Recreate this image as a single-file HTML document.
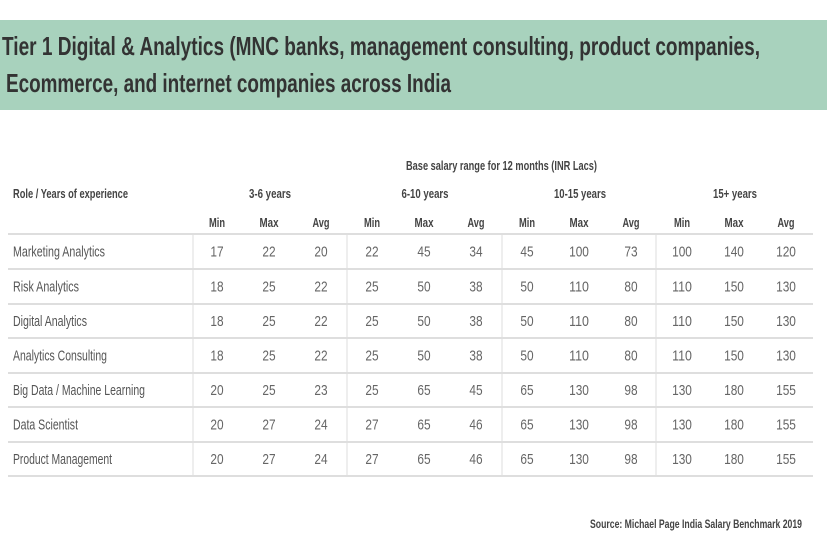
<!DOCTYPE html>
<html><head><meta charset="utf-8"><style>
html,body{margin:0;padding:0;background:#fff;width:827px;height:551px;overflow:hidden}
svg{display:block}
text{font-family:"Liberation Sans",sans-serif}
.t{font-weight:bold;fill:#333;font-size:26px}
.h{font-weight:bold;fill:#444;font-size:13px}
.d{fill:#666;font-size:15px}
.r{fill:#555;font-size:15px}
</style></head><body>
<svg width="827" height="551" viewBox="0 0 827 551" xmlns="http://www.w3.org/2000/svg">
<rect x="0" y="20" width="827" height="90" fill="#a8d2bd"/>
<text class="t" x="2" y="55" textLength="758" lengthAdjust="spacingAndGlyphs">Tier 1 Digital &amp; Analytics (MNC banks, management consulting, product companies,</text>
<text class="t" x="6" y="92" textLength="445" lengthAdjust="spacingAndGlyphs">Ecommerce, and internet companies across India</text>

<text class="h" x="406" y="170" textLength="191" lengthAdjust="spacingAndGlyphs">Base salary range for 12 months (INR Lacs)</text>
<text class="h" x="13" y="198" textLength="115" lengthAdjust="spacingAndGlyphs">Role / Years of experience</text>
<g class="h" text-anchor="middle">
<text x="270" y="198" textLength="42" lengthAdjust="spacingAndGlyphs">3-6 years</text><text x="425" y="198" textLength="47" lengthAdjust="spacingAndGlyphs">6-10 years</text><text x="580" y="198" textLength="52" lengthAdjust="spacingAndGlyphs">10-15 years</text><text x="735" y="198" textLength="44" lengthAdjust="spacingAndGlyphs">15+ years</text>
</g>
<g id="lines" stroke="#dedede" stroke-width="2"></g>
<text class="h" x="802" y="528" text-anchor="end" textLength="212" lengthAdjust="spacingAndGlyphs" style="font-size:12px">Source: Michael Page India Salary Benchmark 2019</text>
</svg>
<script>
var ns="http://www.w3.org/2000/svg";
var cx=[217,269,321,372,424,476,527,579,631,682,734,786];
function T(parent,cls,x,y,s,anchor,len){var t=document.createElementNS(ns,"text");t.setAttribute("class",cls);t.setAttribute("x",x);t.setAttribute("y",y);if(anchor)t.setAttribute("text-anchor",anchor);if(len){t.setAttribute("textLength",len);t.setAttribute("lengthAdjust","spacingAndGlyphs");}t.textContent=s;parent.appendChild(t);}
var svg=document.querySelector("svg");
var hs=["Min","Max","Avg"],hl=[16,19,17];
for(var i=0;i<12;i++){T(svg,"h",cx[i],227,hs[i%3],"middle",hl[i%3]);}
var lines=document.getElementById("lines");
function L(x1,y1,x2,y2,w){var l=document.createElementNS(ns,"line");l.setAttribute("x1",x1);l.setAttribute("y1",y1);l.setAttribute("x2",x2);l.setAttribute("y2",y2);if(w)l.setAttribute("stroke-width",w);lines.appendChild(l);}
var ys=[234,269,304,338,373,407,442,476];
ys.forEach(function(y){L(8,y,813,y);});
[193,347,502,656].forEach(function(x){L(x,234,x,476,1);});
var data=[["Marketing Analytics",17,22,20,22,45,34,45,100,73,100,140,120],
["Risk Analytics",18,25,22,25,50,38,50,110,80,110,150,130],
["Digital Analytics",18,25,22,25,50,38,50,110,80,110,150,130],
["Analytics Consulting",18,25,22,25,50,38,50,110,80,110,150,130],
["Big Data / Machine Learning",20,25,23,25,65,45,65,130,98,130,180,155],
["Data Scientist",20,27,24,27,65,46,65,130,98,130,180,155],
["Product Management",20,27,24,27,65,46,65,130,98,130,180,155]];
var lens=[92,66,74,94,132,65,99];
data.forEach(function(r,j){var y=(ys[j]+ys[j+1])/2+5;T(svg,"r",13,y,r[0],null,lens[j]);
for(var i=0;i<12;i++){var s=String(r[i+1]);T(svg,"d",cx[i],y,s,"middle",s.length*6.6);}});
</script>
</body></html>
